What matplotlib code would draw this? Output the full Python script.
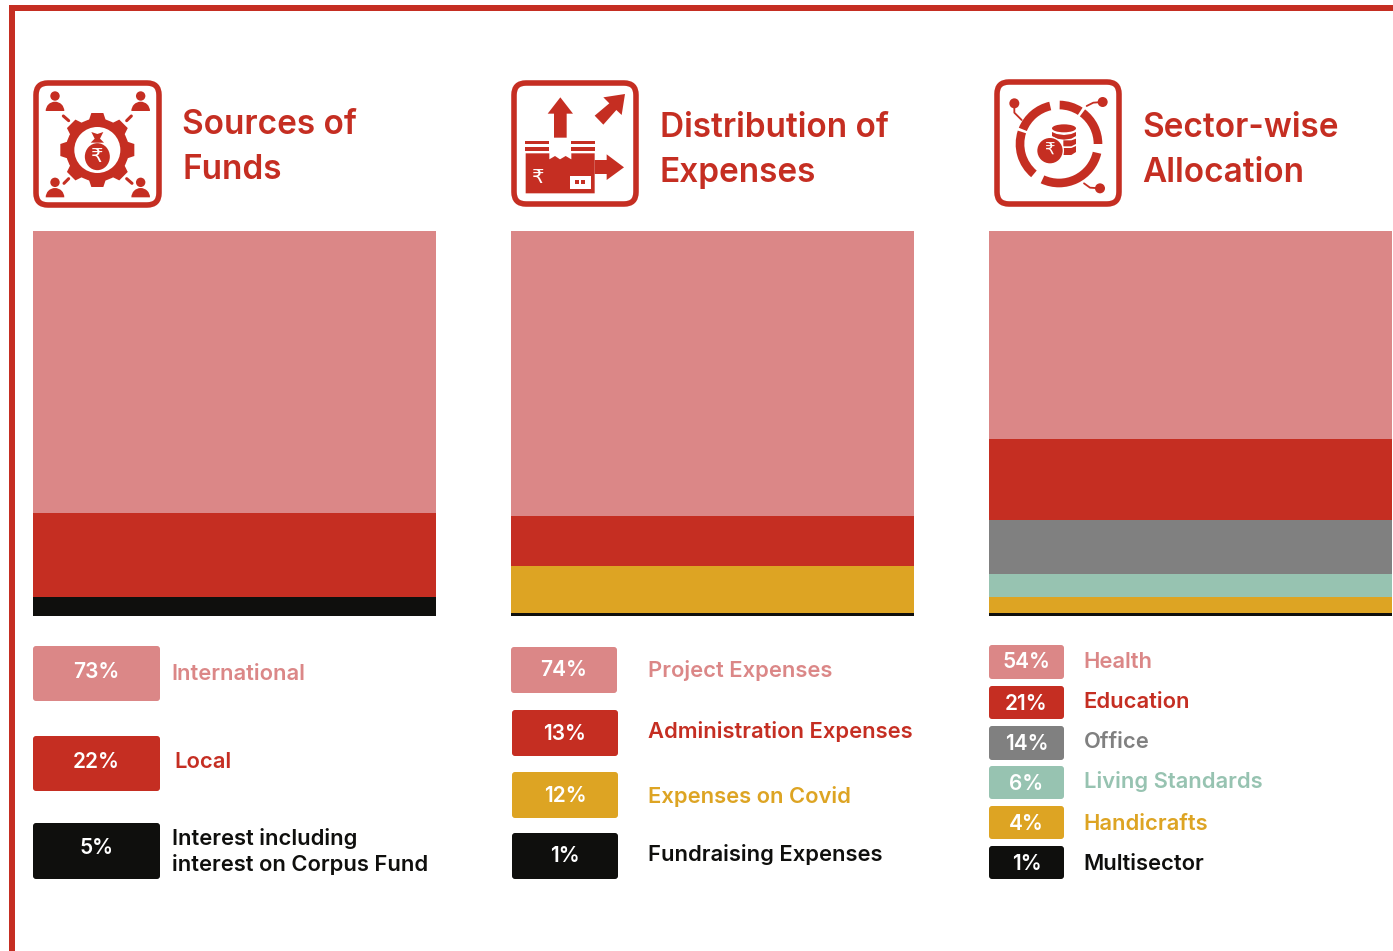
import math
import matplotlib
matplotlib.use("Agg")
import matplotlib.pyplot as plt
from matplotlib.patches import Rectangle, FancyBboxPatch, Circle, Wedge, Polygon, Ellipse

plt.rcParams['font.family'] = ['Inter', 'DejaVu Sans']

W, H = 1393, 951
PINK, RED, GOLD, GREY, TEAL, BLACK = '#DB8787', '#C52E22', '#DDA423', '#808080', '#97C3B1', '#0F0F0D'

funds_labels = ['International', 'Local', 'Interest including\ninterest on Corpus Fund']
funds_values = [73, 22, 5]
funds_colors = [PINK, RED, BLACK]

expense_labels = ['Project Expenses', 'Administration Expenses', 'Expenses on Covid', 'Fundraising Expenses']
expense_values = [74, 13, 12, 1]
expense_colors = [PINK, RED, GOLD, BLACK]

sector_labels = ['Health', 'Education', 'Office', 'Living Standards', 'Handicrafts', 'Multisector']
sector_values = [54, 21, 14, 6, 4, 1]
sector_colors = [PINK, RED, GREY, TEAL, GOLD, BLACK]

titles = [['Sources of', 'Funds'], ['Distribution of', 'Expenses'], ['Sector-wise', 'Allocation']]

fig = plt.figure(figsize=(W / 100, H / 100), dpi=100, facecolor='white')

# ---- stacked bars
def stacked(x0, x1, values, colors):
    ax = fig.add_axes([x0 / W, 1 - 616.45 / H, (x1 - x0) / W, 385 / H])
    bottom = 0
    for v, c in zip(values, colors):
        ax.bar(0, v, bottom=bottom, width=1, color=c, linewidth=0)
        bottom += v
    ax.set_xlim(-.5, .5)
    ax.set_ylim(100, 0)
    ax.axis('off')

stacked(33, 436, funds_values, funds_colors)
stacked(511, 914, expense_values, expense_colors)
stacked(989, 1392, sector_values, sector_colors)

# ---- overlay in pixel coordinates
ov = fig.add_axes([0, 0, 1, 1], zorder=5)
ov.set_xlim(0, W)
ov.set_ylim(H, 0)
ov.axis('off')
ov.patch.set_alpha(0)

# frame
ov.add_patch(Rectangle((9, 5), W - 9, 6, color=RED, lw=0))
ov.add_patch(Rectangle((9, 5), 6, H - 5, color=RED, lw=0))

# titles
title_x = [182.5, 659.5, 1142]
title_y = [[134, 179], [137, 182], [137, 182]]
for t, x, ys in zip(titles, title_x, title_y):
    for line_, y in zip(t, ys):
        ov.text(x, y, line_, color=RED, fontsize=24, fontweight='semibold', va='baseline', ha='left')

# legends
def legend(labels, values, colors, boxes, text_y, lab_x, lab_y):
    for lab, v, c, b, ty, lx, ly in zip(labels, values, colors, boxes, text_y, lab_x, lab_y):
        x0, y0, x1, y1 = b
        ov.add_patch(FancyBboxPatch((x0 + 3, y0 + 3), x1 - x0 - 6, y1 - y0 - 6,
                                    boxstyle='round,pad=3,rounding_size=3', fc=c, ec='none'))
        ov.text((x0 + x1) / 2, ty + 1.5, f'{v}%', color='white', fontsize=15, fontweight='semibold',
                ha='center', va='center')
        ov.text(lx, ly + 1.5, lab, color=c, fontsize=15.8, fontweight='semibold', ha='left', va='center',
                linespacing=1.28)

legend(funds_labels, funds_values, funds_colors,
       [(33, 646, 160, 701), (33, 736, 160, 791), (33, 823, 160, 879)],
       [671, 761, 846], [171.5, 174.5, 171.5], [673, 761, 850])
legend(expense_labels, expense_values, expense_colors,
       [(511, 647, 617, 693), (512, 710, 618, 756), (512, 772, 618, 818), (512, 833, 618, 879)],
       [669, 733, 794, 854], [647.5] * 4, [669, 730, 795, 853])
legend(sector_labels, sector_values, sector_colors,
       [(989, 645, 1064, 679), (989, 686, 1064, 719), (989, 726, 1064, 760),
        (989, 766, 1064, 799), (989, 806, 1064, 839), (989, 846, 1064, 879)],
       [661, 702, 743, 783, 823, 862], [1083.5] * 6, [661, 701, 740, 780, 823, 863])

# ---- icons (drawn in reference-zoom units: 3 units = 1 px)
def mapper(ox, oy):
    return lambda x, y: (ox + x / 3, oy + y / 3)

def icon_box(x0, y0, x1, y1):
    ov.add_patch(FancyBboxPatch((x0 + 15, y0 + 15), x1 - x0 - 30, y1 - y0 - 30,
                                boxstyle='round,pad=12,rounding_size=12', fc='white', ec=RED, lw=4))

def poly(m, pts, c=RED):
    ov.add_patch(Polygon([m(*p) for p in pts], closed=True, fc=c, ec='none'))

def line(m, pts, lw=1.4, c=RED):
    xs, ys = zip(*[m(*p) for p in pts])
    ov.plot(xs, ys, color=c, lw=lw, solid_capstyle='round')

RUPEE = '\u20b9'

# icon 1
icon_box(33, 80, 162, 208)
m = mapper(0, 0)
cx, cy = m(292, 450)
ov.add_patch(Circle((cx, cy), 31.5, fc=RED, ec='none'))
for i in range(8):
    a = math.radians(i * 45)
    ca, sa = math.cos(a), math.sin(a)
    def rot(dx, dy):
        return (cx + dx * ca - dy * sa, cy + dx * sa + dy * ca)
    ov.add_patch(Polygon([rot(28, -9), rot(37, -6), rot(37, 6), rot(28, 9)], closed=True, fc=RED, ec='none'))
ov.add_patch(Circle((cx, cy), 23, fc='white', ec='none'))
ov.add_patch(Ellipse(m(292, 470), 25, 27, fc=RED, ec='none'))
poly(m, [(274, 396), (292, 402), (310, 396), (300, 416), (312, 428), (272, 428), (284, 416)])
ov.text(*m(291, 468), RUPEE, color='white', fontsize=14, family='DejaVu Sans', ha='center', va='center')
for hx, hy in [(165, 288), (422, 288), (165, 547), (422, 547)]:
    ov.add_patch(Circle(m(hx, hy), 4.7, fc=RED, ec='none'))
    ov.add_patch(Wedge(m(hx, hy + 45), 9.3, 180, 360, fc=RED, ec='none'))
for a_, b_ in [((190, 348), (206, 362)), ((394, 348), (380, 362)), ((206, 536), (192, 550)), ((380, 536), (396, 550))]:
    line(m, [a_, b_], lw=2.2)

# icon 2
icon_box(511, 80, 639, 207)
m = mapper(500, 70)
poly(m, [(181, 82), (219, 131), (200, 131), (200, 203), (162, 203), (162, 131), (143, 131)])
poly(m, [(375, 72), (365, 135), (349, 120), (310, 164), (284, 137), (328, 100), (310, 82)])
poly(m, [(76, 213), (148, 213), (148, 222), (76, 222)])
poly(m, [(76, 231), (148, 231), (148, 242), (76, 242)])
poly(m, [(214, 213), (286, 213), (286, 222), (214, 222)])
poly(m, [(214, 231), (286, 231), (286, 242), (214, 242)])
poly(m, [(77, 250), (148, 250), (148, 268), (165, 258), (180, 268), (197, 258), (214, 268), (214, 250),
         (284, 250), (284, 370), (77, 370)])
poly(m, [(284, 270), (320, 270), (320, 253), (372, 292), (320, 330), (320, 312), (284, 312)])
poly(m, [(210, 317), (272, 317), (272, 358), (210, 358)], 'white')
poly(m, [(226, 331), (236, 331), (236, 341), (226, 341)])
poly(m, [(243, 331), (254, 331), (254, 341), (243, 341)])
ov.text(*m(115, 323), RUPEE, color='white', fontsize=14, family='DejaVu Sans', ha='center', va='center')

# icon 3
icon_box(994, 79, 1122, 207)
m = mapper(980, 70)
c3 = m(237, 222)
for a1, a2 in [(0, 53), (57, 89), (-115, -13), (103, 158), (162, 230)]:
    ov.add_patch(Wedge(c3, 130 / 3, -a2, -a1, width=26 / 3, fc=RED, ec='none'))
for (nx, ny) in [(103, 100), (368, 96), (360, 355)]:
    ov.add_patch(Circle(m(nx, ny), 5, fc=RED, ec='none'))
line(m, [(103, 100), (103, 128), (125, 150)], lw=1.3)
line(m, [(368, 96), (340, 98), (320, 108)], lw=1.3)
line(m, [(360, 355), (330, 353), (312, 340)], lw=1.3)
ov.add_patch(Ellipse(m(252, 175), 72 / 3, 24 / 3, fc=RED, ec='none'))
poly(m, [(216, 186), (230, 192), (252, 195), (274, 192), (288, 186), (288, 198), (274, 206), (252, 209), (230, 206), (216, 198)])
poly(m, [(250, 211), (274, 211), (288, 206), (288, 222), (274, 229), (250, 229)])
poly(m, [(250, 234), (274, 234), (288, 228), (288, 246), (274, 255), (250, 255)])
ov.add_patch(Circle(m(210, 242), 42 / 3, fc='white', ec='none'))
ov.add_patch(Circle(m(210, 242), 38 / 3, fc=RED, ec='none'))
ov.text(*m(207, 242), RUPEE, color='white', fontsize=12, family='DejaVu Sans', ha='center', va='center')

fig.savefig('out.png', dpi=100)
